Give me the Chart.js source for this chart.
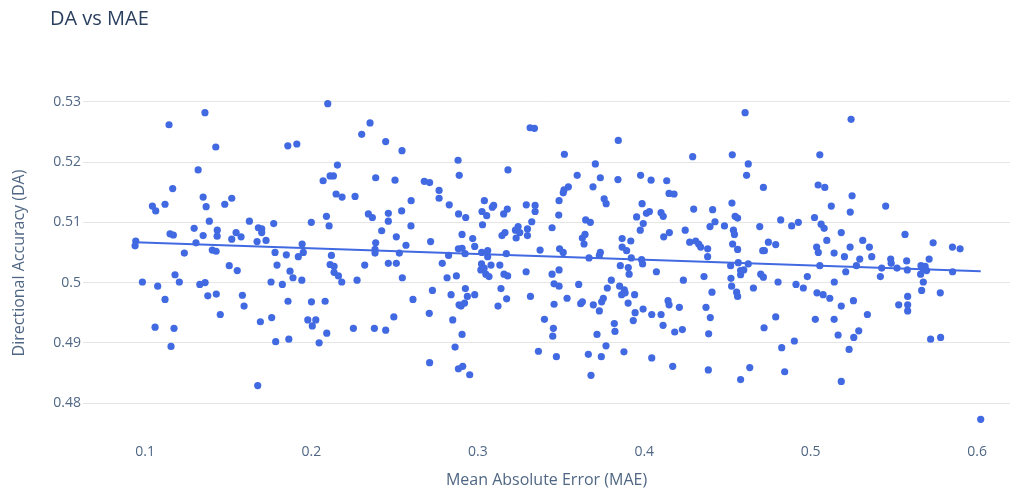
<!DOCTYPE html>
<html>
<head>
<meta charset="utf-8">
<title>DA vs MAE</title>
<script src="https://cdn.jsdelivr.net/npm/chart.js@4.4.1/dist/chart.umd.min.js"></script>
<style>
  html, body { margin: 0; padding: 0; background: #fff; }
  #wrap { width: 1026px; height: 494px; }
</style>
</head>
<body>
<div id="wrap"><canvas id="myChart" width="1026" height="494"></canvas></div>
<script>
// values
var maeValues = [
    // left part
    0.2098,0.1360,0.1144,0.1425,0.1858,0.1912,0.2156,0.1319,
    0.2070,0.2112,0.2132,0.1166,0.1349,0.1521,0.1044,0.1064,
    0.1120,0.1367,0.1479,0.2148,0.2184,0.2090,0.2106,0.1386,
    0.1627,0.1773,0.1999,0.1295,0.1434,0.1433,0.1349,0.1150,
    0.1170,0.1681,0.1701,0.1701,0.1547,0.1577,0.1521,0.1673,
    0.1727,0.1306,0.0944,0.0940,0.1944,0.1236,0.1404,0.1427,
    0.1781,0.1849,0.1921,0.1951,0.2120,
    0.2112,0.1793,0.1506,0.1554,0.1180,0.1871,0.1889,0.1942,
    0.2136,0.2136,0.2162,0.2182,0.0984,0.1076,0.1206,0.1329,
    0.1361,0.1757,0.1825,0.1120,0.1377,0.1428,0.1585,0.1595,
    0.1452,0.1859,0.2000,0.2082,0.1693,0.1761,0.1978,0.2026,
    0.2005,0.1060,0.1174,0.1156,0.1785,0.1864,0.2046,0.2092,
    0.1677,
    // 0.22 - 0.35
    0.2352,0.2302,0.2446,0.2544,0.3314,0.3340,0.2262,0.2386,
    0.2502,0.2678,0.2710,0.2767,0.2767,0.2881,0.2888,0.3181,
    0.2599,0.2542,0.2342,0.2366,0.2462,0.2462,0.2598,0.2422,
    0.2510,0.2386,0.2568,0.2382,0.2382,0.2528,0.2716,0.2828,
    0.2884,0.2927,0.2905,0.2969,0.2981,0.2883,0.2905,0.2824,
    0.2923,0.3039,0.3025,0.3053,0.3087,0.3095,0.3028,0.3155,
    0.3177,0.3291,0.3344,0.3344,0.3324,0.3446,0.3242,0.3226,
    0.3252,0.3230,0.3298,0.3298,0.3145,0.3163,0.3023,0.3059,
    0.3059,0.3171,0.3374,
    0.2320,0.2462,0.2510,0.2274,0.2546,0.2786,0.2815,0.2871,
    0.3022,0.3038,0.3018,0.3048,0.3067,0.3079,0.3132,0.3157,
    0.3179,0.3290,0.3446,0.3458,0.2727,0.2839,0.2925,0.2937,
    0.2981,0.2920,0.2887,0.2899,0.3139,0.3173,0.3121,0.3316,
    0.3458,0.2610,0.2495,0.2708,0.2849,0.2252,0.2378,0.2446,
    0.2905,0.3400,0.3454,0.3450,0.2863,0.3364,0.2710,0.2883,
    0.2909,0.2951,0.3472,
    // 0.35 - 0.47
    0.4606,0.3844,0.3520,0.4291,0.4529,0.4625,0.4615,0.3706,
    0.3597,0.3736,0.3842,0.3978,0.4041,0.4135,0.3692,0.3544,
    0.3518,0.3513,0.3488,0.3486,0.3759,0.3771,0.4149,0.4179,
    0.4716,0.3987,0.4031,0.4013,0.3954,0.4101,0.4114,0.3648,
    0.3676,0.4297,0.4411,0.4527,0.4546,0.4561,0.4395,0.4425,
    0.4482,0.4536,0.4542,0.4694,0.3994,0.3976,0.4246,0.4151,
    0.4117,0.3628,0.3644,0.3638,0.3867,0.3919,0.3867,0.3894,
    0.3491,0.3513,0.3736,0.3730,0.3668,0.4273,0.4309,0.4327,
    0.4339,0.4381,0.4381,0.4531,0.4561,0.4712,0.3922,0.3984,
    0.3990,0.3488,0.3488,0.3606,0.3536,0.3618,0.3628,0.3694,
    0.3730,0.3744,0.3754,0.3778,0.3802,0.3856,0.3904,0.3909,
    0.4073,0.3852,0.3880,0.3864,0.3885,0.3942,0.3903,0.3945,
    0.3993,0.3934,0.4045,0.4101,0.4113,0.4143,0.4149,0.4211,
    0.4183,0.4229,0.4235,0.3820,0.3824,0.3716,0.3770,0.3664,
    0.3742,0.3878,0.3680,0.4045,0.4171,0.4359,0.4407,0.4371,
    0.4397,0.4387,0.4385,0.4519,0.4565,0.4625,0.4579,0.4598,
    0.4579,0.4521,0.4525,0.4555,0.4561,0.4656,0.4700,0.4716,
    0.4720,0.4634,0.4579,
    // right part
    0.5243,0.5055,0.5045,0.5085,0.5249,0.5124,0.5238,0.5451,
    0.4820,0.4886,0.4926,0.5023,0.5063,0.5081,0.5184,0.5097,
    0.5036,0.5046,0.5141,0.5203,0.5237,0.5313,0.5353,0.5295,
    0.5367,0.4746,0.4790,0.4722,0.5567,0.5736,0.5852,0.5898,
    0.5481,0.5577,0.5712,
    0.5484,0.5055,0.5275,0.5211,0.5427,0.5519,0.5581,0.5663,
    0.5688,0.5677,0.5697,0.5661,0.5853,0.5419,0.5677,0.5667,
    0.5779,0.5583,0.5583,0.5583,0.5529,0.4804,0.4912,0.4956,
    0.4980,0.5038,0.5075,0.5115,0.5142,0.5184,0.5257,0.5341,
    0.4790,0.5028,0.5141,0.5165,0.5259,0.5289,0.5231,0.4826,
    0.4902,0.4844,0.5184,0.5721,0.5781,0.6022
];

var daValues = [
    // left part
    0.5297,0.5282,0.5262,0.5225,0.5227,0.5230,0.5195,0.5187,
    0.5169,0.5177,0.5177,0.5156,0.5142,0.5140,0.5127,0.5119,
    0.5130,0.5126,0.5130,0.5147,0.5142,0.5110,0.5094,0.5102,
    0.5102,0.5098,0.5100,0.5090,0.5087,0.5077,0.5078,0.5081,
    0.5079,0.5091,0.5089,0.5083,0.5083,0.5076,0.5072,0.5068,
    0.5070,0.5066,0.5069,0.5061,0.5064,0.5049,0.5054,0.5052,
    0.5050,0.5046,0.5043,0.5050,0.5045,
    0.5030,0.5029,0.5028,0.5020,0.5013,0.5019,0.5008,0.5004,
    0.5027,0.5017,0.5011,0.5001,0.5001,0.4994,0.5001,0.4997,
    0.5000,0.5001,0.4997,0.4972,0.4978,0.4981,0.4979,0.4961,
    0.4947,0.4969,0.4968,0.4969,0.4935,0.4942,0.4938,0.4938,
    0.4928,0.4926,0.4924,0.4894,0.4902,0.4906,0.4900,0.4916,
    0.4829,
    // 0.22 - 0.35
    0.5265,0.5246,0.5234,0.5219,0.5257,0.5256,0.5143,0.5174,
    0.5170,0.5168,0.5166,0.5153,0.5140,0.5203,0.5178,0.5187,
    0.5136,0.5119,0.5114,0.5108,0.5115,0.5102,0.5094,0.5086,
    0.5076,0.5066,0.5062,0.5055,0.5049,0.5049,0.5068,0.5129,
    0.5114,0.5108,0.5080,0.5073,0.5060,0.5056,0.5057,0.5045,
    0.5048,0.5136,0.5118,0.5111,0.5125,0.5128,0.5096,0.5114,
    0.5122,0.5129,0.5128,0.5118,0.5101,0.5091,0.5093,0.5087,
    0.5083,0.5074,0.5089,0.5078,0.5078,0.5083,0.5050,0.5053,
    0.5043,0.5048,0.5054,
    0.5029,0.5032,0.5032,0.5004,0.5008,0.5032,0.5008,0.5011,
    0.5031,0.5024,0.5021,0.5014,0.5010,0.5029,0.5029,0.5014,
    0.5011,0.5018,0.5014,0.4998,0.4987,0.4980,0.4990,0.4977,
    0.4980,0.4966,0.4963,0.4961,0.4990,0.4973,0.4961,0.4977,
    0.4964,0.4972,0.4943,0.4949,0.4938,0.4924,0.4924,0.4921,
    0.4914,0.4939,0.4924,0.4911,0.4893,0.4886,0.4867,0.4857,
    0.4861,0.4847,0.4877,
    // 0.35 - 0.47
    0.5282,0.5236,0.5213,0.5209,0.5212,0.5197,0.5178,0.5197,
    0.5178,0.5174,0.5171,0.5178,0.5170,0.5169,0.5159,0.5159,
    0.5154,0.5149,0.5136,0.5112,0.5139,0.5131,0.5148,0.5147,
    0.5158,0.5131,0.5118,0.5115,0.5109,0.5116,0.5110,0.5104,
    0.5100,0.5122,0.5121,0.5132,0.5110,0.5107,0.5093,0.5101,
    0.5094,0.5087,0.5080,0.5093,0.5098,0.5087,0.5087,0.5083,
    0.5076,0.5074,0.5080,0.5064,0.5073,0.5069,0.5059,0.5053,
    0.5056,0.5050,0.5050,0.5045,0.5041,0.5067,0.5069,0.5064,
    0.5059,0.5056,0.5043,0.5064,0.5055,0.5053,0.5041,0.5038,
    0.5031,0.5021,0.4994,0.4997,0.4974,0.4965,0.4968,0.4963,
    0.4953,0.4968,0.4974,0.4991,0.5004,0.5028,0.5025,0.5014,
    0.5018,0.4994,0.4988,0.4980,0.4983,0.4980,0.4966,0.4950,
    0.4956,0.4937,0.4947,0.4947,0.4929,0.4970,0.4963,0.4959,
    0.4918,0.4922,0.5004,0.4932,0.4919,0.4914,0.4895,0.4881,
    0.4877,0.4885,0.4846,0.4875,0.4861,0.5010,0.4984,0.4959,
    0.4942,0.4915,0.4855,0.5028,0.5033,0.5031,0.5020,0.5021,
    0.5013,0.5007,0.4994,0.4984,0.4977,0.4991,0.5014,0.5009,
    0.4925,0.4859,0.4839,
    // right part
    0.5271,0.5212,0.5162,0.5158,0.5144,0.5127,0.5117,0.5127,
    0.5104,0.5094,0.5100,0.5108,0.5097,0.5090,0.5083,0.5070,
    0.5059,0.5050,0.5049,0.5043,0.5059,0.5070,0.5059,0.5039,
    0.5043,0.5067,0.5063,0.5053,0.5080,0.5066,0.5059,0.5056,
    0.5039,0.5036,0.5039,
    0.5032,0.5028,0.5028,0.5018,0.5024,0.5024,0.5021,0.5028,
    0.5027,0.5023,0.5020,0.5014,0.5018,0.5010,0.5001,0.4987,
    0.4983,0.4977,0.4963,0.4953,0.4963,0.5001,0.4997,0.4991,
    0.5010,0.4983,0.4980,0.4974,0.5001,0.4961,0.4970,0.4947,
    0.4943,0.4939,0.4939,0.4913,0.4909,0.4920,0.4889,0.4892,
    0.4903,0.4852,0.4836,0.4906,0.4909,0.4773
];

// OLS trend line ends
var trendMae = [0.0940, 0.6022];
var trendDa = [0.5067, 0.5019];

var xTicks = [0.1, 0.2, 0.3, 0.4, 0.5, 0.6];
var yTicks = [0.48, 0.49, 0.5, 0.51, 0.52, 0.53];

var blue = '#4169e1';
var font = "'Open Sans', sans-serif";

// plot title, top left like plotly
var titlePlugin = {
    id: 'plotTitle',
    afterDraw: function (chart) {
        var ctx = chart.ctx;
        ctx.save();
        ctx.font = '20px ' + font;
        ctx.fillStyle = '#2a3f5f';
        ctx.textBaseline = 'middle';
        ctx.textAlign = 'left';
        ctx.fillText('DA vs MAE', 50, 19);
        ctx.restore();
    }
};

document.addEventListener("DOMContentLoaded", () => {
    var scatterPoints = maeValues.map((m, i) => ({ x: m, y: daValues[i] }));
    var trendPoints = trendMae.map((m, i) => ({ x: m, y: trendDa[i] }));

    var ctx = document.getElementById('myChart').getContext('2d');
    var chart = new Chart(ctx, {
        type: 'scatter',
        data: {
            datasets: [{
                label: 'Trend',
                type: 'line',
                data: trendPoints,
                borderColor: blue,
                borderWidth: 2,
                pointRadius: 0,
                fill: false,
                order: 0
            },
            {
                label: 'Data',
                data: scatterPoints,
                backgroundColor: blue,
                borderWidth: 0,
                pointRadius: 3.6,
                order: 1
            }]
        },
        options: {
            responsive: false,
            animation: false,
            layout: {
                padding: { top: 94, right: 16, left: 0, bottom: 0 }
            },
            plugins: {
                legend: { display: false },
                tooltip: { enabled: false }
            },
            scales: {
                x: {
                    type: 'linear',
                    min: 0.0627,
                    max: 0.6198,
                    afterFit: (scale) => { scale.height = 62; },
                    afterBuildTicks: (scale) => {
                        scale.ticks = xTicks.map(v => ({ value: v }));
                    },
                    grid: { display: false, drawTicks: false },
                    border: { display: false },
                    ticks: {
                        padding: 12,
                        color: '#506784',
                        font: { family: font, size: 14 },
                        maxRotation: 0,
                        callback: (v) => String(Math.round(v * 100) / 100)
                    },
                    title: {
                        display: true,
                        text: 'Mean Absolute Error (MAE)',
                        color: '#506784',
                        font: { family: font, size: 16 },
                        padding: { top: 0, bottom: 4 }
                    }
                },
                y: {
                    type: 'linear',
                    min: 0.4752,
                    max: 0.5313,
                    afterFit: (scale) => { scale.width = 83; },
                    afterBuildTicks: (scale) => {
                        scale.ticks = yTicks.map(v => ({ value: v }));
                    },
                    grid: { color: '#e5e5e5', lineWidth: 1, drawTicks: false },
                    border: { display: false },
                    ticks: {
                        padding: 2,
                        color: '#506784',
                        font: { family: font, size: 14 },
                        callback: (v) => String(Math.round(v * 100) / 100)
                    },
                    title: {
                        display: true,
                        text: 'Directional Accuracy (DA)',
                        color: '#506784',
                        font: { family: font, size: 16 },
                        padding: { top: 10, bottom: 0 }
                    }
                }
            }
        },
        plugins: [titlePlugin]
    });
});
</script>
</body>
</html>
